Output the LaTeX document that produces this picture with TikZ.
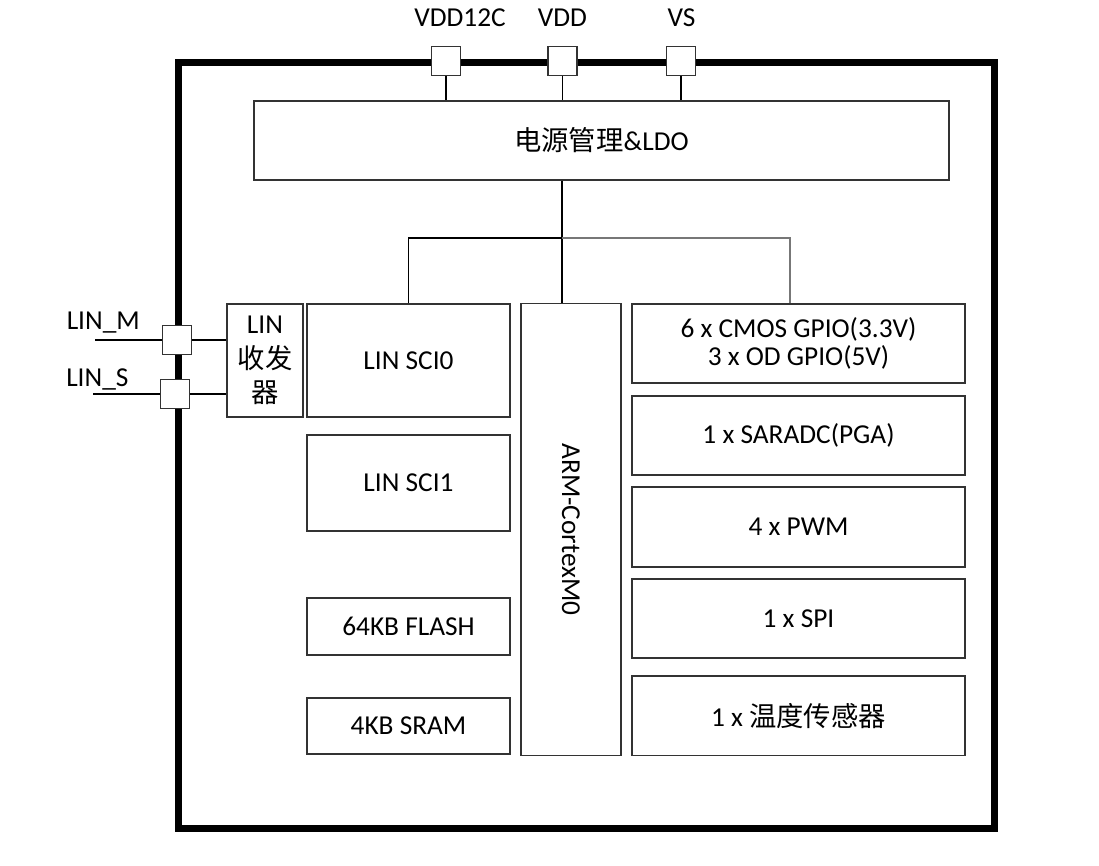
\documentclass[tikz,border=0pt]{standalone}
\usepackage{fontspec}
\setmainfont{Carlito}
\newfontfamily\cjk{Noto Sans CJK SC}
\usetikzlibrary{positioning,calc}
\definecolor{cB}{HTML}{333333}
\definecolor{cW}{HTML}{777777}
\tikzset{
  blk/.style={draw=cB,line width=1.1pt,fill=white,inner sep=0pt,align=center,
              font=\fontsize{20.5}{21.5}\selectfont},
  sz/.style 2 args={minimum width=#1*0.75pt,minimum height=#2*0.75pt},
  pin/.style={draw=cB,line width=1pt,fill=white,minimum size=21.75pt,inner sep=0pt},
  lbl/.style={inner sep=0pt,font=\fontsize{20.5}{24}\selectfont},
  wire/.style={line width=1pt,black},
  frame/.style={line width=5.25pt},
}

\begin{document}
\begin{tikzpicture}[x=0.75pt,y=-0.75pt]
  \useasboundingbox (0,0) rectangle (1099,866);
  \draw[frame] (178.5,62.5) rectangle (994,828.5);

  % supply pins
  \node[pin] (vdd12c) at (446,61){};
  \node[pin] (vdd) at (562.5,61){};
  \node[pin] (vs) at (681,61){};
  \node[lbl,anchor=base] (vdd12clbl) at (460,27){VDD12C};
  \node[lbl,anchor=base] (vddlbl) at (562.5,27){VDD};
  \node[lbl,anchor=base] (vslbl) at (681.5,27){VS};

  % LIN pins
  \node[pin] (linm) at (177,340){};
  \node[pin] (lins) at (175,394){};
  \node[lbl,anchor=base west] (linmlbl) at (66.5,329){LIN\_M};
  \node[lbl,anchor=base west] (linslbl) at (66,386.5){LIN\_S};
  \coordinate (linmend) at (95,340);
  \coordinate (linsend) at (93,394);

  \node[blk,sz={695}{79}] (ldo) at (601.5,140.5){{\cjk 电源管理}\&LDO};
  \node[blk,sz={76}{113},font=\fontsize{20.5}{26}\selectfont] (lintr) at (265,360.5)
    {LIN\\{\cjk 收发}\\{\cjk 器}};
  \node[blk,sz={203}{113}] (sci0) at (408.5,360.5){LIN SCI0};
  \node[blk,sz={203}{96}] (sci1) at (408.5,483){LIN SCI1};
  \node[blk,sz={203}{57}] (flash) at (408.5,626.5){64KB FLASH};
  \node[blk,sz={203}{56}] (sram) at (408.5,726){4KB SRAM};
  \node[blk,sz={100}{451.5}] (arm) at (571,529.5){};
  \node[rotate=-90,font=\fontsize{20.5}{21.5}\selectfont] (armlbl) at (arm.center){ARM-CortexM0};
  \node[blk,sz={333}{79}] (gpio) at (798.5,343.5){6 x CMOS GPIO(3.3V)\\3 x OD GPIO(5V)};
  \node[blk,sz={333}{79}] (adc) at (798.5,435.5){1 x SARADC(PGA)};
  \node[blk,sz={333}{80}] (pwm) at (798.5,527){4 x PWM};
  \node[blk,sz={333}{79}] (spi) at (798.5,618.5){1 x SPI};
  \node[blk,sz={333}{79.5}] (temp) at (798.5,715.75){1 x {\cjk 温度传感器}};

  \draw[wire] (vdd12c.south) -- (vdd12c.south |- ldo.north);
  \draw[wire] (vdd.south) -- (vdd.south |- ldo.north);
  \draw[wire] (vs.south) -- (vs.south |- ldo.north);

  \draw[wire] (linmend) -- (linm.west);
  \draw[wire] (linm.east) -- (linm.east -| lintr.west);
  \draw[wire] (linsend) -- (lins.west);
  \draw[wire] (lins.east) -- (lins.east -| lintr.west);

  % internal bus
  \coordinate (tap) at (562,238);
  \coordinate (gtap) at (790,238);
  \draw[wire] (tap |- ldo.south) -- (tap |- arm.north);
  \draw[wire] (sci0.north) |- (tap);
  \draw[wire,cW] (tap) -- (gtap) -- (gtap |- gpio.north);
\end{tikzpicture}
\end{document}
